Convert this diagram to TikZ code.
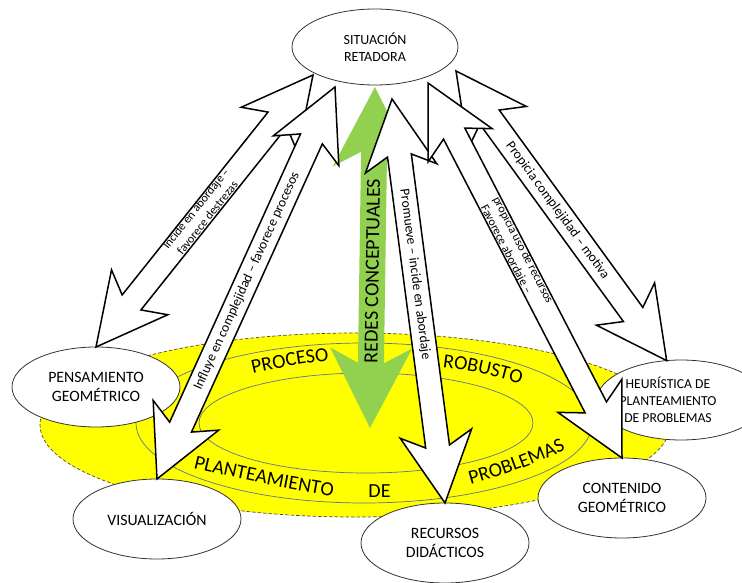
\documentclass[tikz,border=0pt]{standalone}
\usepackage{fontspec}
\setmainfont{Carlito}
\usetikzlibrary{shapes.geometric,calc,decorations.text}

\definecolor{leafgreen}{RGB}{146,208,80}
\definecolor{ringline}{RGB}{95,115,145}
\definecolor{zoneyellow}{RGB}{255,255,0}

\newcommand{\ringwordfont}{\fontsize{20}{24}\selectfont}

% Block arrow with a head at both ends and swept-back barbs.
% #1 style, #2 first tip, #3 second tip, #4 tip-to-barb length,
% #5 tip-to-notch length, #6 head half width, #7 shaft half width
\newcommand{\dblarrow}[7]{%
  \path[#1] (#2)
    -- ($(#2)!#4!(#3)!#6!90:(#3)$)
    -- ($(#2)!#5!(#3)!#7!90:(#3)$)
    -- ($(#3)!#5!(#2)!#7!-90:(#2)$)
    -- ($(#3)!#4!(#2)!#6!-90:(#2)$)
    -- (#3)
    -- ($(#3)!#4!(#2)!#6!90:(#2)$)
    -- ($(#3)!#5!(#2)!#7!90:(#2)$)
    -- ($(#2)!#5!(#3)!#7!-90:(#3)$)
    -- ($(#2)!#4!(#3)!#6!-90:(#3)$)
    -- cycle;}
\newcommand{\whitearrow}[2]{\dblarrow{warrow}{#1}{#2}{70pt}{57pt}{36pt}{12pt}}

\begin{document}
\begin{tikzpicture}[x=1pt, y=-1pt,
  bubble/.style={ellipse, draw=black!80, line width=0.8pt, fill=white,
    minimum width=168pt, minimum height=80pt, inner sep=0pt, outer sep=0pt,
    align=center, font=\fontsize{15.8}{19.3}\selectfont},
  zone/.style={ellipse, draw=black!70, dash pattern=on 3.5pt off 2pt,
    line width=0.7pt, fill=zoneyellow, inner sep=0pt},
  ring/.style={ellipse, draw=ringline, line width=0.7pt, inner sep=0pt},
  warrow/.style={draw=black, line width=1.5pt, fill=white, line join=miter},
  garrow/.style={fill=leafgreen},
  arrowtext/.style={font=\fontsize{13.6}{16}\selectfont, inner sep=0pt},
  arrowline/.style={font=\fontsize{12}{14.6}\selectfont, inner xsep=0pt, inner ysep=2pt},
]
\useasboundingbox (0,0) rectangle (742,583);
\clip (0,0) rectangle (742,583);

% yellow zone with its two rings
\node[zone, minimum width=630pt, minimum height=184pt] (zone) at (355,425) {};
\node[ring, minimum width=456pt, minimum height=160pt] (ringout) at (364,423) {};
\node[ring, minimum width=334pt, minimum height=100pt] (ringin) at (366,423) {};

% words set along the ring
\path[decorate, decoration={text along path, text align=center,
  text={|\ringwordfont|PROCESO}}]
  (248,375) .. controls (277,368) and (305,363) .. (334,360);
\path[decorate, decoration={text along path, text align=center,
  text={|\ringwordfont|ROBUSTO}}]
  (440,367) .. controls (467,370) and (495,376) .. (523,385);
\path[decorate, decoration={text along path, text align=center,
  text={|\ringwordfont|PLANTEAMIENTO}}]
  (189,467) .. controls (238,479) and (288,489) .. (337,497);
\node[font=\ringwordfont, anchor=base, inner sep=0pt] (de) at (379.5,497) {DE};
\path[decorate, decoration={text along path, text align=center,
  text={|\ringwordfont|PROBLEMAS}}]
  (465,486) .. controls (500,477) and (536,464) .. (571,447);

% concept bubbles
\node[bubble, minimum width=166pt, minimum height=76pt,
  font=\fontsize{14}{17}\selectfont] (sit) at (375,47) {SITUACIÓN\\RETADORA};
\node[bubble] (pen) at (96,387) {PENSAMIENTO\\GEOMÉTRICO};
\node[bubble] (vis) at (157,519) {VISUALIZACIÓN};
\node[bubble] (rec) at (445,543) {RECURSOS\\DIDÁCTICOS};
\node[bubble] (con) at (622,498) {CONTENIDO\\GEOMÉTRICO};
\node[bubble] (heu) at (681,400) {};
\node[font=\fontsize{13.7}{16.7}\selectfont, align=center, inner sep=0pt]
  (heutext) at ($(heu.center)+(-13,0)$) {HEURÍSTICA DE\\PLANTEAMIENTO\\DE PROBLEMAS};

% arrow ends below the top bubble
\coordinate (gTop) at ($(sit.center)+(0,40)$);
\coordinate (gBot) at ($(ringin.center)+(4,5)$);
\coordinate (aTop) at ($(sit.center)+(-62,28)$);
\coordinate (bTop) at ($(sit.center)+(-40,40)$);
\coordinate (cTop) at ($(sit.center)+(17,52)$);
\coordinate (dTop) at ($(sit.center)+(53,36)$);
\coordinate (eTop) at ($(sit.center)+(81,24)$);

% green arrow: conceptual networks
\dblarrow{garrow}{gBot}{gTop}{80pt}{65pt}{41pt}{13pt}
\path (gBot) -- (gTop) node[pos=0.46, sloped, font=\ringwordfont, inner sep=0pt]
  (redes) {REDES CONCEPTUALES};

% white arrows with their relations
\whitearrow{pen.north}{aTop}
\path (pen.north) -- (aTop)
  node[pos=0.49, sloped, arrowline, anchor=south] (labAa) {Incide en abordaje –}
  node[pos=0.49, sloped, arrowline, anchor=north] (labAb) {favorece destrezas};

\whitearrow{vis.north}{bTop}
\path (vis.north) -- (bTop) node[pos=0.505, sloped, arrowtext] (labB)
  {Influye en complejidad – favorece procesos};

\whitearrow{cTop}{rec.north}
\path (cTop) -- (rec.north) node[pos=0.434, sloped, arrowtext] (labC)
  {Promueve – incide en abordaje};

\whitearrow{eTop}{heu.110}
\path (eTop) -- (heu.110) node[pos=0.482, sloped, arrowtext] (labE)
  {Propicia complejidad – motiva};

\whitearrow{dTop}{con.north}
\path (dTop) -- (con.north)
  node[pos=0.455, sloped, arrowline, anchor=south] (labDa) {propicia uso de recursos}
  node[pos=0.435, sloped, arrowline, anchor=north] (labDb) {Favorece abordaje –};
\end{tikzpicture}
\end{document}
